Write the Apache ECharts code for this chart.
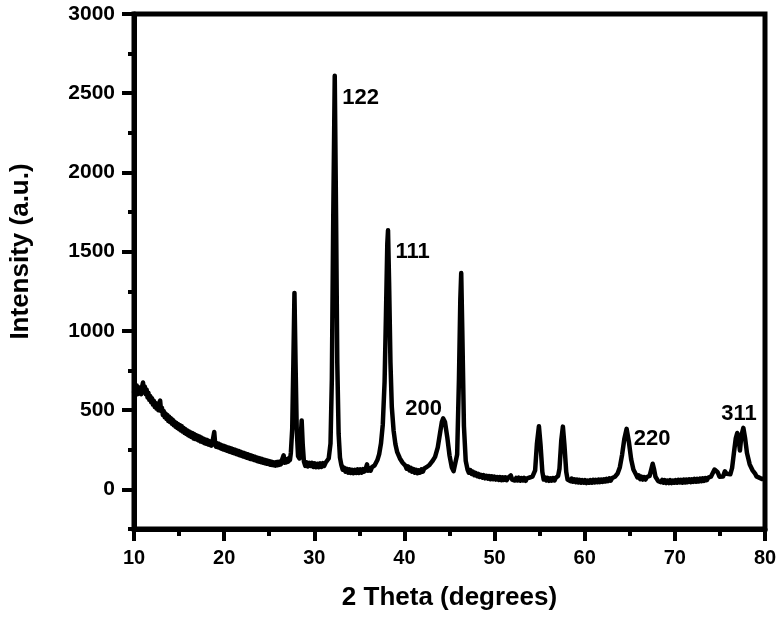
<!DOCTYPE html>
<html>
<head>
<meta charset="utf-8">
<script src="https://cdn.jsdelivr.net/npm/echarts@6.0.0/dist/echarts.min.js"></script>
<style>
    html, body { margin: 0; padding: 0; background: #fff; }
    #chart { width: 784px; height: 618px; }
</style>
</head>
<body>
<div id="chart"></div>
<script>
// XRD pattern [2theta, intensity] (noisy baseline kept)
const xrdPoints = [
    [10.0, 610], [10.1, 650], [10.2, 605], [10.3, 655], [10.4, 600], [10.5, 645], [10.6, 605], [10.7, 640], [10.8, 600], [10.9, 650],
    [11.0, 675], [11.1, 615], [11.2, 650], [11.3, 600], [11.4, 630], [11.5, 580], [11.6, 610], [11.7, 565], [11.8, 590], [11.9, 550],
    [12.0, 575], [12.1, 535], [12.2, 560], [12.3, 520], [12.4, 545], [12.5, 510], [12.6, 540], [12.7, 500], [12.8, 545], [12.9, 560],
    [13.0, 495], [13.1, 515], [13.2, 470], [13.3, 495], [13.4, 455], [13.5, 480], [13.6, 445], [13.7, 470], [13.8, 432], [13.9, 458],
    [14.0, 425], [14.1, 450], [14.2, 415], [14.3, 440], [14.4, 405], [14.5, 428], [14.6, 396], [14.7, 420], [14.8, 388], [14.9, 412],
    [15.0, 380], [15.1, 405], [15.2, 372], [15.3, 398], [15.4, 365], [15.5, 388], [15.6, 356], [15.7, 380], [15.8, 350], [15.9, 372],
    [16.0, 342], [16.1, 366], [16.2, 336], [16.3, 360], [16.4, 330], [16.5, 355], [16.6, 322], [16.7, 348], [16.8, 318], [16.9, 342],
    [17.0, 314], [17.1, 338], [17.2, 308], [17.3, 332], [17.4, 302], [17.5, 326], [17.6, 298], [17.7, 320], [17.8, 292], [17.9, 315],
    [18.0, 288], [18.1, 312], [18.2, 284], [18.3, 306], [18.4, 280], [18.5, 302], [18.6, 276], [18.7, 298], [18.8, 290], [18.9, 362],
    [19.0, 292], [19.1, 270], [19.2, 292], [19.3, 266], [19.4, 288], [19.5, 262], [19.6, 282], [19.7, 256], [19.8, 278], [19.9, 252],
    [20.0, 274], [20.1, 248], [20.2, 270], [20.3, 244], [20.4, 265], [20.5, 240], [20.6, 262], [20.7, 236], [20.8, 258], [20.9, 232],
    [21.0, 254], [21.1, 228], [21.2, 250], [21.3, 224], [21.4, 246], [21.5, 220], [21.6, 242], [21.7, 216], [21.8, 238], [21.9, 212],
    [22.0, 234], [22.1, 208], [22.2, 230], [22.3, 204], [22.4, 226], [22.5, 200], [22.6, 222], [22.7, 196], [22.8, 218], [22.9, 192],
    [23.0, 214], [23.1, 190], [23.2, 210], [23.3, 186], [23.4, 206], [23.5, 182], [23.6, 202], [23.7, 178], [23.8, 198], [23.9, 175],
    [24.0, 195], [24.1, 172], [24.2, 192], [24.3, 168], [24.4, 188], [24.5, 165], [24.6, 185], [24.7, 162], [24.8, 182], [24.9, 160],
    [25.0, 178], [25.1, 156], [25.2, 175], [25.3, 154], [25.4, 172], [25.5, 152], [25.6, 170], [25.7, 150], [25.8, 172], [25.9, 152],
    [26.0, 174], [26.1, 155], [26.2, 176], [26.3, 158], [26.4, 182], [26.5, 175], [26.6, 215], [26.7, 168], [26.8, 190], [26.9, 170],
    [27.0, 192], [27.1, 175], [27.2, 198], [27.3, 185], [27.4, 230], [27.55, 380], [27.68, 800], [27.8, 1240], [27.92, 800], [28.05, 380],
    [28.2, 210], [28.35, 195], [28.47, 300], [28.6, 435], [28.72, 280], [28.85, 175], [29.0, 148], [29.15, 170], [29.3, 145], [29.45, 168],
    [29.6, 148], [29.75, 168], [29.9, 142], [30.05, 165], [30.2, 140], [30.35, 162], [30.5, 140], [30.65, 164], [30.8, 142], [30.95, 166],
    [31.1, 148], [31.25, 168], [31.4, 165], [31.6, 195], [31.8, 290], [31.95, 700], [32.1, 1700], [32.27, 2610], [32.42, 1700], [32.55, 800],
    [32.7, 350], [32.85, 200], [33.0, 155], [33.15, 125], [33.3, 138], [33.45, 112], [33.6, 130], [33.75, 106], [33.9, 126], [34.05, 104],
    [34.2, 124], [34.35, 102], [34.5, 124], [34.65, 104], [34.8, 126], [34.95, 104], [35.1, 126], [35.25, 106], [35.4, 128], [35.55, 112],
    [35.7, 130], [35.85, 158], [35.95, 118], [36.1, 135], [36.25, 118], [36.4, 140], [36.55, 128], [36.7, 152], [36.85, 160], [37.0, 185],
    [37.2, 222], [37.4, 290], [37.6, 410], [37.8, 680], [37.95, 1100], [38.1, 1550], [38.18, 1635], [38.3, 1300], [38.45, 800], [38.6, 520],
    [38.8, 370], [39.0, 285], [39.2, 235], [39.5, 195], [39.8, 168], [40.1, 150], [40.25, 130], [40.4, 145], [40.55, 120], [40.7, 136],
    [40.85, 112], [41.0, 128], [41.15, 106], [41.3, 124], [41.45, 102], [41.6, 120], [41.75, 106], [41.9, 126], [42.05, 112], [42.2, 132],
    [42.35, 122], [42.5, 142], [42.65, 138], [42.8, 156], [42.95, 160], [43.1, 178], [43.4, 205], [43.7, 265], [43.95, 355], [44.15, 425],
    [44.3, 448], [44.5, 425], [44.75, 330], [45.0, 215], [45.25, 140], [45.45, 115], [45.65, 125], [45.85, 220], [46.05, 700], [46.2, 1200],
    [46.3, 1365], [46.42, 1000], [46.6, 400], [46.8, 180], [47.0, 125], [47.15, 105], [47.3, 122], [47.45, 98], [47.6, 112], [47.75, 90],
    [47.9, 104], [48.05, 84], [48.2, 98], [48.35, 78], [48.5, 92], [48.65, 74], [48.8, 90], [48.95, 70], [49.1, 86], [49.25, 68],
    [49.4, 84], [49.55, 64], [49.7, 82], [49.85, 64], [50.0, 80], [50.15, 62], [50.3, 78], [50.45, 60], [50.6, 78], [50.75, 58],
    [50.9, 76], [51.05, 60], [51.2, 76], [51.35, 58], [51.5, 74], [51.65, 70], [51.8, 88], [51.95, 62], [52.1, 74], [52.25, 56],
    [52.4, 72], [52.55, 56], [52.7, 74], [52.85, 55], [53.0, 72], [53.15, 56], [53.3, 72], [53.45, 54], [53.6, 70], [53.75, 58],
    [53.9, 75], [54.05, 64], [54.2, 80], [54.35, 90], [54.5, 120], [54.7, 290], [54.92, 398], [55.1, 280], [55.3, 110], [55.45, 62],
    [55.6, 76], [55.75, 56], [55.9, 72], [56.05, 54], [56.2, 70], [56.35, 55], [56.5, 72], [56.65, 56], [56.8, 74], [56.95, 70],
    [57.05, 85], [57.2, 130], [57.4, 310], [57.58, 396], [57.75, 280], [57.95, 110], [58.1, 62], [58.25, 72], [58.4, 52], [58.55, 68],
    [58.7, 48], [58.85, 64], [59.0, 46], [59.15, 62], [59.3, 44], [59.45, 60], [59.6, 42], [59.75, 58], [59.9, 42], [60.05, 58],
    [60.2, 40], [60.35, 56], [60.5, 42], [60.65, 58], [60.8, 42], [60.95, 60], [61.1, 44], [61.25, 60], [61.4, 45], [61.55, 62],
    [61.7, 46], [61.85, 62], [62.0, 48], [62.15, 64], [62.3, 50], [62.45, 66], [62.6, 52], [62.75, 70], [62.9, 56], [63.05, 72],
    [63.2, 66], [63.35, 80], [63.5, 82], [63.65, 100], [63.9, 140], [64.15, 220], [64.4, 320], [64.65, 382], [64.9, 300], [65.15, 190],
    [65.4, 125], [65.7, 92], [65.85, 75], [66.0, 88], [66.15, 65], [66.3, 80], [66.45, 62], [66.6, 78], [66.75, 62], [66.9, 78],
    [67.05, 70], [67.2, 85], [67.38, 125], [67.54, 162], [67.7, 125], [67.85, 80], [68.0, 70], [68.15, 52], [68.3, 64], [68.45, 46],
    [68.6, 60], [68.75, 42], [68.9, 58], [69.05, 40], [69.2, 56], [69.35, 40], [69.5, 58], [69.65, 40], [69.8, 56], [69.95, 42],
    [70.1, 58], [70.25, 42], [70.4, 60], [70.55, 44], [70.7, 60], [70.85, 42], [71.0, 62], [71.15, 44], [71.3, 62], [71.45, 46],
    [71.6, 64], [71.75, 46], [71.9, 64], [72.05, 48], [72.2, 66], [72.35, 48], [72.5, 66], [72.65, 50], [72.8, 68], [72.95, 52],
    [73.1, 70], [73.25, 54], [73.4, 72], [73.55, 58], [73.7, 74], [73.85, 66], [74.0, 80], [74.2, 92], [74.4, 125], [74.57, 136],
    [74.75, 108], [74.95, 80], [75.15, 72], [75.35, 82], [75.55, 114], [75.75, 98], [75.95, 86], [76.15, 95], [76.35, 135], [76.55, 230],
    [76.75, 320], [76.92, 356], [77.1, 300], [77.22, 245], [77.38, 340], [77.6, 388], [77.8, 320], [78.0, 230], [78.3, 158], [78.6, 122],
    [78.9, 100], [79.05, 82], [79.2, 92], [79.35, 74], [79.5, 84], [79.65, 66], [79.8, 78], [80.0, 70]
];

// reflection labels and where they sit (data units)
const peakNames = ['122', '111', '200', '220', '311'];
const peakLabelX = [33.1, 39.0, 40.1, 65.45, 75.15];
const peakLabelY = [2470, 1500, 510, 316, 475];

const yMajorTicks = [0, 500, 1000, 1500, 2000, 2500, 3000];

let fontFamily = 'Arial, "Liberation Sans", sans-serif';
let chart = echarts.init(document.getElementById('chart'));

let labelData = peakNames.map((n, i) => ({ name: n, value: [peakLabelX[i], peakLabelY[i]] }));

let axisLineStyle = { color: '#000', width: 5 };

let option = {
    animation: false,
    backgroundColor: '#fff',
    grid: {
        left: 134,
        right: 19,
        top: 14,
        bottom: 89,
        show: true,
        borderColor: '#000',
        borderWidth: 5,
        backgroundColor: 'transparent'
    },
    xAxis: {
        type: 'value',
        min: 10,
        max: 80,
        interval: 10,
        axisLine: { onZero: false, lineStyle: axisLineStyle },
        axisTick: { length: 12, lineStyle: { color: '#000', width: 4 } },
        minorTick: { show: true, splitNumber: 2, length: 7, lineStyle: { color: '#000', width: 4 } },
        splitLine: { show: false },
        axisLabel: {
            margin: 19,
            color: '#000',
            fontSize: 20,
            fontWeight: 'bold',
            fontFamily: fontFamily
        },
        name: '2 Theta (degrees)',
        nameLocation: 'middle',
        nameGap: 56,
        nameTextStyle: { color: '#000', fontSize: 26, fontWeight: 'bold', fontFamily: fontFamily }
    },
    yAxis: [
        {
            type: 'value',
            min: -250,
            max: 3000,
            interval: 250,
            axisLine: { show: true, onZero: false, lineStyle: axisLineStyle },
            axisTick: { show: true, length: 6, lineStyle: { color: '#000', width: 4 } },
            splitLine: { show: false },
            axisLabel: {
                margin: 19,
                color: '#000',
                fontSize: 21,
                fontWeight: 'bold',
                fontFamily: fontFamily,
                formatter: function (v) {
                    return v >= 0 && v % 500 === 0 ? String(v) : '';
                }
            },
            name: 'Intensity (a.u.)',
            nameLocation: 'middle',
            nameRotate: 90,
            nameGap: 100,
            nameTextStyle: {
                color: '#000',
                fontSize: 26,
                fontWeight: 'bold',
                fontFamily: fontFamily,
                padding: [0, 0, 0, 40]
            }
        },
        {
            // longer ticks at the labelled values
            type: 'value',
            min: -250,
            max: 3000,
            interval: 250,
            position: 'left',
            axisLine: { show: false, onZero: false },
            axisTick: { show: true, customValues: yMajorTicks, length: 12, lineStyle: { color: '#000', width: 4 } },
            axisLabel: { show: false },
            splitLine: { show: false }
        }
    ],
    series: [
        {
            type: 'line',
            data: xrdPoints,
            showSymbol: false,
            symbol: 'none',
            lineStyle: { color: '#000', width: 4.5, join: 'round' },
            z: 3
        },
        {
            type: 'scatter',
            data: labelData,
            symbolSize: 0,
            itemStyle: { opacity: 1 },
            label: {
                show: true,
                position: 'right',
                distance: 0,
                formatter: '{b}',
                color: '#000',
                fontSize: 22,
                fontWeight: 'bold',
                fontFamily: fontFamily
            },
            z: 4
        }
    ]
};
chart.setOption(option);
</script>
</body>
</html>
